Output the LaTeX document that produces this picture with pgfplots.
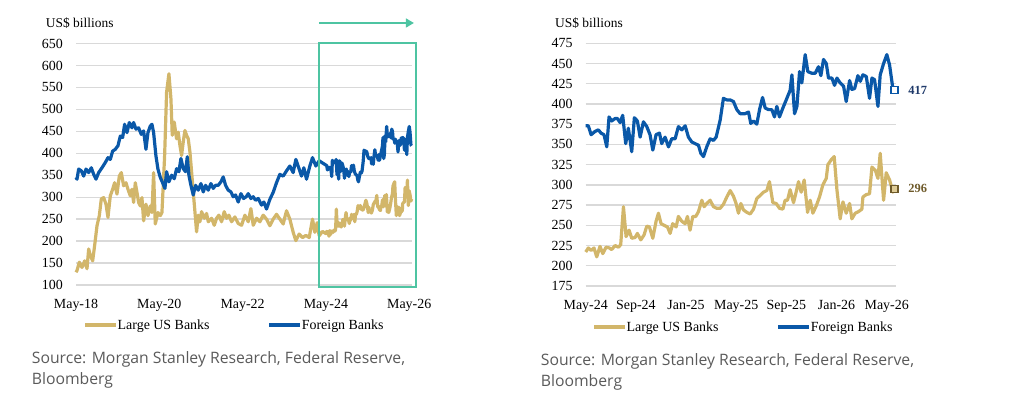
\documentclass[border=0pt]{standalone}
\usepackage{fontspec}
\setmainfont{Liberation Serif}
\newfontfamily\srcfont{Open Sans}
\usepackage{pgfplots}
\usepackage{pgfplotstable}
\pgfplotsset{compat=1.18}
\usetikzlibrary{arrows.meta}
\definecolor{gold}{RGB}{210,182,106}
\definecolor{fblue}{RGB}{10,88,168}
\definecolor{boxgreen}{RGB}{78,196,162}
\definecolor{gridgray}{RGB}{217,217,217}
\definecolor{srcgray}{RGB}{90,90,90}
\definecolor{labnavy}{RGB}{31,58,106}
\definecolor{labbrown}{RGB}{110,90,42}

\pgfplotstableread{
m v
0 345
0.29 341
0.77 364
1.54 360
2.21 348
2.88 364
3.65 356
4.41 367
5.09 352
5.76 341
6.53 356
7.49 367
8.45 379
9.21 390
9.88 386
10.56 405
11.32 409
12.09 417
12.76 439
13.44 436
14.01 466
14.68 447
15.36 470
16.12 458
16.60 470
17.27 455
18.04 458
18.81 443
19.48 451
20.15 409
20.73 447
21.40 462
21.88 466
22.36 447
23.03 394
23.61 364
24.28 345
24.95 333
25.62 320
26.10 358
26.77 335
27.54 350
28.31 342
28.98 365
29.65 358
30.23 388
30.90 365
31.57 358
32.05 392
32.53 350
33.11 327
33.78 305
34.45 327
35.22 316
35.99 331
36.66 312
37.33 327
38.10 316
38.87 331
39.54 320
40.21 327
40.98 327
41.75 335
42.42 346
43.09 327
43.86 316
44.63 312
45.30 301
45.97 305
46.74 289
47.51 308
48.28 297
49.04 301
49.62 308
50.38 297
51.06 301
51.73 293
52.50 297
53.45 282
54.12 289
54.89 273
55.85 295
56.81 311
57.77 333
58.73 352
59.69 348
60.65 360
61.61 371
62.57 356
63.34 386
64.30 364
64.97 348
65.64 367
66.41 341
67.37 371
68.14 390
69.10 371
70.06 383
71.00 378
72.00 373
72.21 373
72.43 362
72.74 366
73.01 368
73.22 364
73.46 362
73.68 347
73.86 384
74.07 379
74.34 382
74.53 382
74.74 377
74.95 386
75.19 351
75.40 370
75.67 341
75.88 383
76.12 379
76.34 359
76.60 378
76.87 372
77.13 362
77.35 343
77.61 362
77.88 364
78.06 351
78.33 359
78.60 347
78.86 357
79.13 357
79.39 372
79.66 368
79.93 373
80.19 359
80.46 353
80.72 351
80.99 349
81.18 339
81.39 335
81.65 347
81.92 357
82.19 355
82.40 359
82.72 380
82.98 407
83.25 405
83.52 405
83.78 403
84.05 393
84.31 388
84.71 388
84.98 390
85.16 376
85.38 379
85.64 375
85.86 393
86.10 408
86.31 395
86.57 393
86.84 393
87.05 384
87.24 397
87.45 384
87.72 395
88.04 407
88.30 417
88.44 436
88.65 388
88.84 397
89.05 440
89.23 426
89.50 461
89.71 440
90.03 438
90.30 438
90.56 446
90.75 435
90.96 455
91.18 450
91.36 432
91.63 432
91.84 423
92.03 432
92.29 426
92.56 422
92.77 403
93.04 429
93.22 418
93.44 419
93.70 435
93.89 428
94.10 436
94.37 434
94.63 407
94.82 432
95.03 430
95.30 397
95.48 436
95.75 450
96.01 461
96.23 448
96.49 419
96.68 417
}\foreign

\pgfplotstableread{
m v
0 129
0.29 133
0.96 152
1.73 140
2.50 155
3.17 137
3.65 182
4.13 167
4.80 155
5.37 190
6.05 235
6.72 258
7.29 296
7.97 299
8.64 284
9.21 254
9.88 303
10.56 318
11.13 333
11.80 307
12.48 348
13.05 356
13.72 326
14.40 333
14.97 318
15.64 303
16.12 318
16.60 288
17.08 333
17.56 311
18.04 288
18.52 280
19.00 299
19.48 246
20.15 284
20.73 258
21.40 280
21.88 265
22.36 356
22.84 239
23.61 265
24.28 258
24.76 265
25.53 394
26.10 539
26.77 581
27.35 524
27.73 441
28.30 471
28.97 433
29.45 448
29.94 418
30.42 395
30.90 426
31.38 452
31.86 441
32.34 433
32.82 403
33.30 358
33.78 312
34.26 267
34.74 221
35.22 259
35.70 244
36.18 267
36.95 252
37.62 263
38.10 244
39.06 252
39.83 236
40.50 252
41.17 259
41.94 244
42.71 267
43.38 252
44.05 259
44.82 244
45.78 255
46.74 240
47.70 236
48.66 259
49.62 244
50.38 274
51.06 236
52.02 252
52.98 244
53.93 259
54.89 250
55.85 235
56.81 250
57.77 261
58.73 250
59.69 239
60.65 269
61.61 250
62.57 220
63.34 201
64.30 216
65.26 208
66.22 213
67.18 208
68.14 250
68.81 220
69.48 242
70.06 212
71.00 222
72.00 217
72.21 222
72.43 219
72.66 222
72.88 211
73.14 224
73.36 215
73.62 223
73.89 222
74.07 220
74.34 225
74.61 223
74.79 226
75.01 273
75.22 236
75.46 244
75.67 234
75.94 235
76.12 240
76.39 232
76.65 238
76.87 249
77.08 248
77.35 234
77.61 255
77.80 265
78.01 252
78.25 250
78.52 248
78.73 240
78.94 252
79.21 248
79.39 261
79.66 255
79.93 252
80.11 261
80.32 244
80.54 261
80.78 261
80.99 267
81.26 281
81.44 273
81.65 277
81.92 281
82.19 273
82.45 271
82.72 271
82.98 276
83.25 285
83.52 293
83.78 286
83.99 277
84.18 265
84.37 277
84.58 269
84.85 266
85.11 264
85.38 270
85.64 283
85.91 287
86.18 291
86.44 293
86.65 304
86.92 278
87.19 277
87.45 271
87.72 270
87.90 281
88.09 281
88.30 294
88.57 278
88.76 290
88.97 304
89.18 291
89.42 306
89.69 266
89.90 281
90.11 265
90.38 274
90.64 285
90.91 300
91.18 308
91.31 325
91.57 331
91.81 335
92.03 294
92.29 258
92.51 279
92.77 265
93.04 277
93.22 258
93.49 265
93.76 267
94.02 270
94.10 285
94.37 288
94.63 289
94.82 322
95.09 318
95.30 308
95.48 339
95.75 281
95.96 315
96.23 306
96.49 291
96.68 296
}\largeus

\pgfplotsset{
  mystyle/.style={
    scale only axis,
    clip=false,
    axis line style={draw=none},
    major tick length=0pt,
    ymajorgrids,
    grid style={gridgray, line width=1.3bp},
    tick label style={font=\fontsize{14}{14}\selectfont},
    /pgf/number format/assume math mode=true,
    yticklabel style={anchor=east, inner sep=0pt, xshift=-13bp},
    xticklabel style={anchor=north, inner sep=0pt, yshift=-14bp},
    legend columns=2,
    legend style={draw=none, fill=none, font=\fontsize{14}{14}\selectfont,
      nodes={inner sep=0pt}, anchor=center,
      /tikz/every even column/.append style={column sep=58bp}},
    legend image code/.code={\draw[##1] (0bp,0bp) -- (31bp,0bp);},
  }
}

\begin{document}
\begin{tikzpicture}
\useasboundingbox (0,0) rectangle (1030bp,418bp);

% ---------- left chart ----------
\begin{axis}[mystyle,
  at={(76bp,133bp)}, anchor=south west,
  width=336bp, height=241.5bp,
  xmin=0, xmax=96.8, ymin=100, ymax=650,
  ytick={100,150,...,650},
  xtick={0,24,48,72,96},
  xticklabels={May-18,May-20,May-22,May-24,May-26},
  legend style={at={(0.4688,-0.1656)}},
]
\addplot[gold, line width=3.2bp, line join=round] table[x=m,y=v] {\largeus};
\addlegendentry{Large US Banks}
\addplot[fblue, line width=3.2bp, line join=round] table[x=m,y=v] {\foreign};
\addlegendentry{Foreign Banks}
\draw[boxgreen, line width=2bp] (axis cs:70.07,96) rectangle (axis cs:97.9,650.5);
\draw[boxgreen, line width=1.5bp, -{Triangle[length=8bp,width=9bp]}] (axis cs:70.0,696.7) -- (axis cs:97.35,696.7);
\end{axis}

% ---------- right chart ----------
\begin{axis}[mystyle,
  at={(585.7bp,132bp)}, anchor=south west,
  width=310.3bp, height=242.7bp,
  xmin=72, xmax=96.74, ymin=175, ymax=475,
  restrict x to domain=71.9:100,
  ytick={175,200,...,475},
  xtick={72,76,80,84,88,92,96},
  xticklabels={May-24,Sep-24,Jan-25,May-25,Sep-25,Jan-26,May-26},
  legend style={at={(0.5053,-0.169)}},
]
\addplot[gold, line width=3.2bp, line join=round] table[x=m,y=v] {\largeus};
\addlegendentry{Large US Banks}
\addplot[fblue, line width=3.2bp, line join=round] table[x=m,y=v] {\foreign};
\addlegendentry{Foreign Banks}
\addplot[forget plot, only marks, mark=square*, mark size=3.5bp,
  mark options={draw=fblue, fill=white, line width=1.2bp},
  nodes near coords, point meta=explicit symbolic,
  nodes near coords style={anchor=west, xshift=10bp, text=labnavy,
    font=\bfseries\fontsize{12.5}{12.5}\selectfont}]
  coordinates {(96.62,417) [417]};
\addplot[forget plot, only marks, mark=square*, mark size=3.5bp,
  mark options={draw=labbrown, fill=gold!70, line width=1.2bp},
  nodes near coords, point meta=explicit symbolic,
  nodes near coords style={anchor=west, xshift=10bp, text=labbrown,
    font=\bfseries\fontsize{12.5}{12.5}\selectfont}]
  coordinates {(96.62,295) [296]};
\end{axis}

% ---------- titles and sources ----------
\node[anchor=base west, inner sep=0pt, font=\fontsize{13.5}{13.5}\selectfont] at (45.7bp,390bp) {US\$ billions};
\node[anchor=base west, inner sep=0pt, font=\fontsize{13.5}{13.5}\selectfont] at (555bp,390bp) {US\$ billions};

\node[anchor=base west, inner sep=0pt, text=srcgray, font=\srcfont\fontsize{15.8}{15.8}\selectfont] at (31.7bp,54bp) {Source: Morgan Stanley Research, Federal Reserve,};
\node[anchor=base west, inner sep=0pt, text=srcgray, font=\srcfont\fontsize{15.8}{15.8}\selectfont] at (31.7bp,33.7bp) {Bloomberg};
\node[anchor=base west, inner sep=0pt, text=srcgray, font=\srcfont\fontsize{15.8}{15.8}\selectfont] at (540.7bp,52bp) {Source: Morgan Stanley Research, Federal Reserve,};
\node[anchor=base west, inner sep=0pt, text=srcgray, font=\srcfont\fontsize{15.8}{15.8}\selectfont] at (540.7bp,32bp) {Bloomberg};
\end{tikzpicture}
\end{document}
